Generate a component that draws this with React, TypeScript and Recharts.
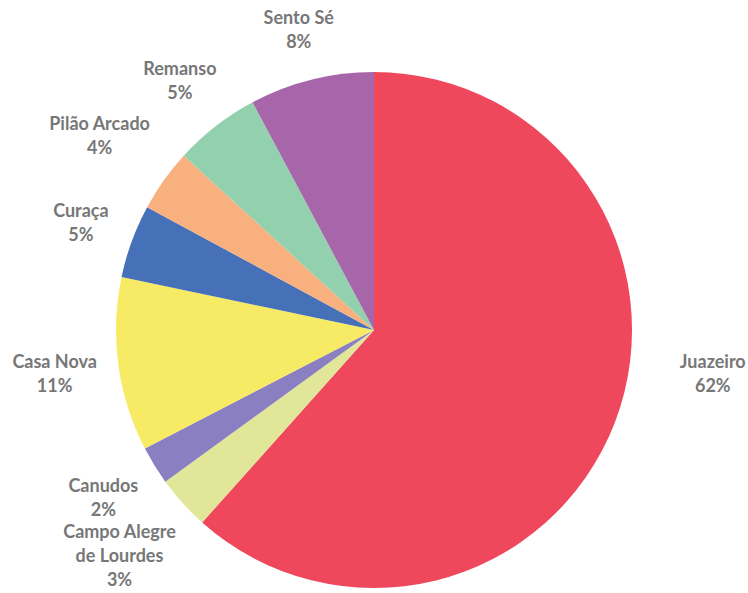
import { PieChart, Pie, Cell } from 'recharts';

const municipios = ['Juazeiro', 'Campo Alegre de Lourdes', 'Canudos', 'Casa Nova', 'Curaça', 'Pilão Arcado', 'Remanso', 'Sento Sé'];
const participacao = [61.6, 3.4, 2.4, 10.9, 4.6, 3.9, 5.4, 7.8];
const cores = ['#EF475C', '#E2E699', '#8A7FC1', '#F7EB66', '#4670B8', '#F8B07E', '#93D1AE', '#A666A9'];

const data = municipios.map((name, i) => ({ name, value: participacao[i] }));

const RAD = Math.PI / 180;
const LINE_H = 24;
const BOTTOM = 579; // última linha não passa daqui

// quebra nomes longos em duas linhas
function wrap(text: string, max = 13) {
  const words = text.split(' ');
  const lines: string[] = [];
  let cur = '';
  words.forEach(w => {
    const next = cur ? cur + ' ' + w : w;
    if (next.length > max && cur) {
      lines.push(cur);
      cur = w;
    } else {
      cur = next;
    }
  });
  if (cur) lines.push(cur);
  return lines;
}

const renderLabel = (props: any) => {
  const { cx, cy, midAngle, outerRadius, percent, name } = props;
  const lines = [...wrap(name), `${Math.round(percent * 100)}%`];
  const w = Math.max(...lines.map(l => l.length)) * 9.2;
  const h = lines.length * LINE_H;
  // a fatia maior tem o rótulo puxado para o lado
  const angle = percent > 0.5 ? midAngle + 13.6 : midAngle;
  const c = Math.cos(-angle * RAD);
  const s = Math.sin(-angle * RAD);
  const extra = percent > 0.5 ? 44 : 20;
  const r = outerRadius + extra + Math.abs(c) * w / 2 + Math.abs(s) * h / 2;
  const x = cx + r * c;
  const y = cy + r * s;
  const span = (lines.length - 1) * LINE_H;
  const y0 = Math.min(y - span / 2, BOTTOM - span);
  return (
    <text
      x={x}
      y={y0}
      textAnchor="middle"
      dominantBaseline="central"
      fill="#777777"
      fontFamily="Lato, 'Open Sans', sans-serif"
      fontWeight={700}
      fontSize={18}
    >
      {lines.map((l, i) => (
        <tspan key={i} x={x} y={y0 + i * LINE_H}>{l}</tspan>
      ))}
    </text>
  );
};

export default function App() {
  return (
    <div style={{ position: 'absolute', left: 0, top: 0, width: 748, height: 593, background: '#fff' }}>
      <PieChart width={748} height={593}>
        <Pie
          data={data}
          dataKey="value"
          nameKey="name"
          cx={369}
          cy={325}
          outerRadius={258}
          startAngle={90}
          endAngle={-270}
          stroke="none"
          label={renderLabel}
          labelLine={false}
          isAnimationActive={false}
        >
          {data.map((d, i) => (
            <Cell key={d.name} fill={cores[i]} />
          ))}
        </Pie>
      </PieChart>
    </div>
  );
}
